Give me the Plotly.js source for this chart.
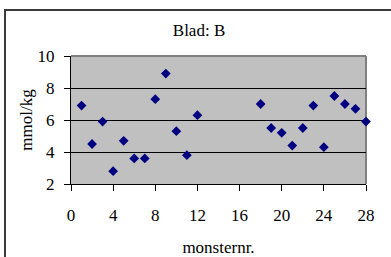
<!DOCTYPE html>
<html>
<head>
<meta charset="utf-8">
<script src="https://cdn.plot.ly/plotly-3.0.1.min.js"></script>
<style>
html,body{margin:0;padding:0;background:#fff;overflow:hidden;}
#wrap{position:relative;width:391px;height:257px;}
#chart{position:absolute;left:0;top:0;width:391px;height:257px;}
#frame{position:absolute;left:4px;top:9px;width:400px;height:260px;border:2px solid #3a3a3a;box-sizing:border-box;pointer-events:none;}
</style>
</head>
<body>
<div id="wrap">
<div id="chart"></div>
<div id="frame"></div>
</div>
<script>
var sampleNumbers = [1,2,3,4,5,6,7,8,9,10,11,12,18,19,20,21,22,23,24,25,26,27,28];
var values = [6.9,4.5,5.9,2.8,4.7,3.6,3.6,7.3,8.9,5.3,3.8,6.3,7.0,5.5,5.2,4.4,5.5,6.9,4.3,7.5,7.0,6.7,5.9];
var xTicks = [0,4,8,12,16,20,24,28];
var yTicks = [2,4,6,8,10];

var font = '"Liberation Serif", "Times New Roman", serif';

var trace = {
  x: sampleNumbers,
  y: values,
  type: 'scatter',
  mode: 'markers',
  marker: {symbol: 'diamond', size: 7.5, color: '#000080', line: {width: 0}},
  cliponaxis: false,
  hoverinfo: 'none'
};

var layout = {
  width: 391,
  height: 257,
  margin: {l: 71, r: 25, t: 56, b: 73, pad: 0},
  paper_bgcolor: '#ffffff',
  plot_bgcolor: '#c0c0c0',
  showlegend: false,
  font: {family: font, size: 17, color: '#000'},
  title: {text: 'Blad: B', font: {family: font, size: 17, color: '#000'}, x: 0.509, xref: 'container', xanchor: 'center', y: 0.885, yref: 'container', yanchor: 'middle'},
  xaxis: {
    range: [0, 28],
    tickvals: xTicks,
    ticks: 'outside', ticklen: 6, tickcolor: '#000', tickwidth: 1,
    showline: true, linecolor: '#000', linewidth: 1,
    showgrid: false, zeroline: false,
    ticklabelstandoff: 10,
    tickfont: {family: font, size: 17, color: '#000'},
    title: {text: 'monsternr.', font: {family: font, size: 17, color: '#000'}, standoff: 16}
  },
  yaxis: {
    range: [2, 10],
    tickvals: yTicks,
    ticks: 'outside', ticklen: 6, tickcolor: '#000', tickwidth: 1,
    showline: true, linecolor: '#000', linewidth: 1,
    showgrid: true, gridcolor: '#000', gridwidth: 1,
    zeroline: false,
    ticklabelstandoff: 6,
    tickfont: {family: font, size: 17, color: '#000'},
    title: {text: 'mmol/kg', font: {family: font, size: 17, color: '#000'}, standoff: 0}
  },
  shapes: [
    {type: 'line', xref: 'paper', yref: 'paper', x0: 0, x1: 1, y0: 1, y1: 1, line: {color: '#808080', width: 2}, layer: 'above'},
    {type: 'line', xref: 'paper', yref: 'paper', x0: 1, x1: 1, y0: 0, y1: 1, line: {color: '#808080', width: 2}, layer: 'below'}
  ]
};

Plotly.newPlot('chart', [trace], layout, {displayModeBar: false, staticPlot: true});
</script>
</body>
</html>
